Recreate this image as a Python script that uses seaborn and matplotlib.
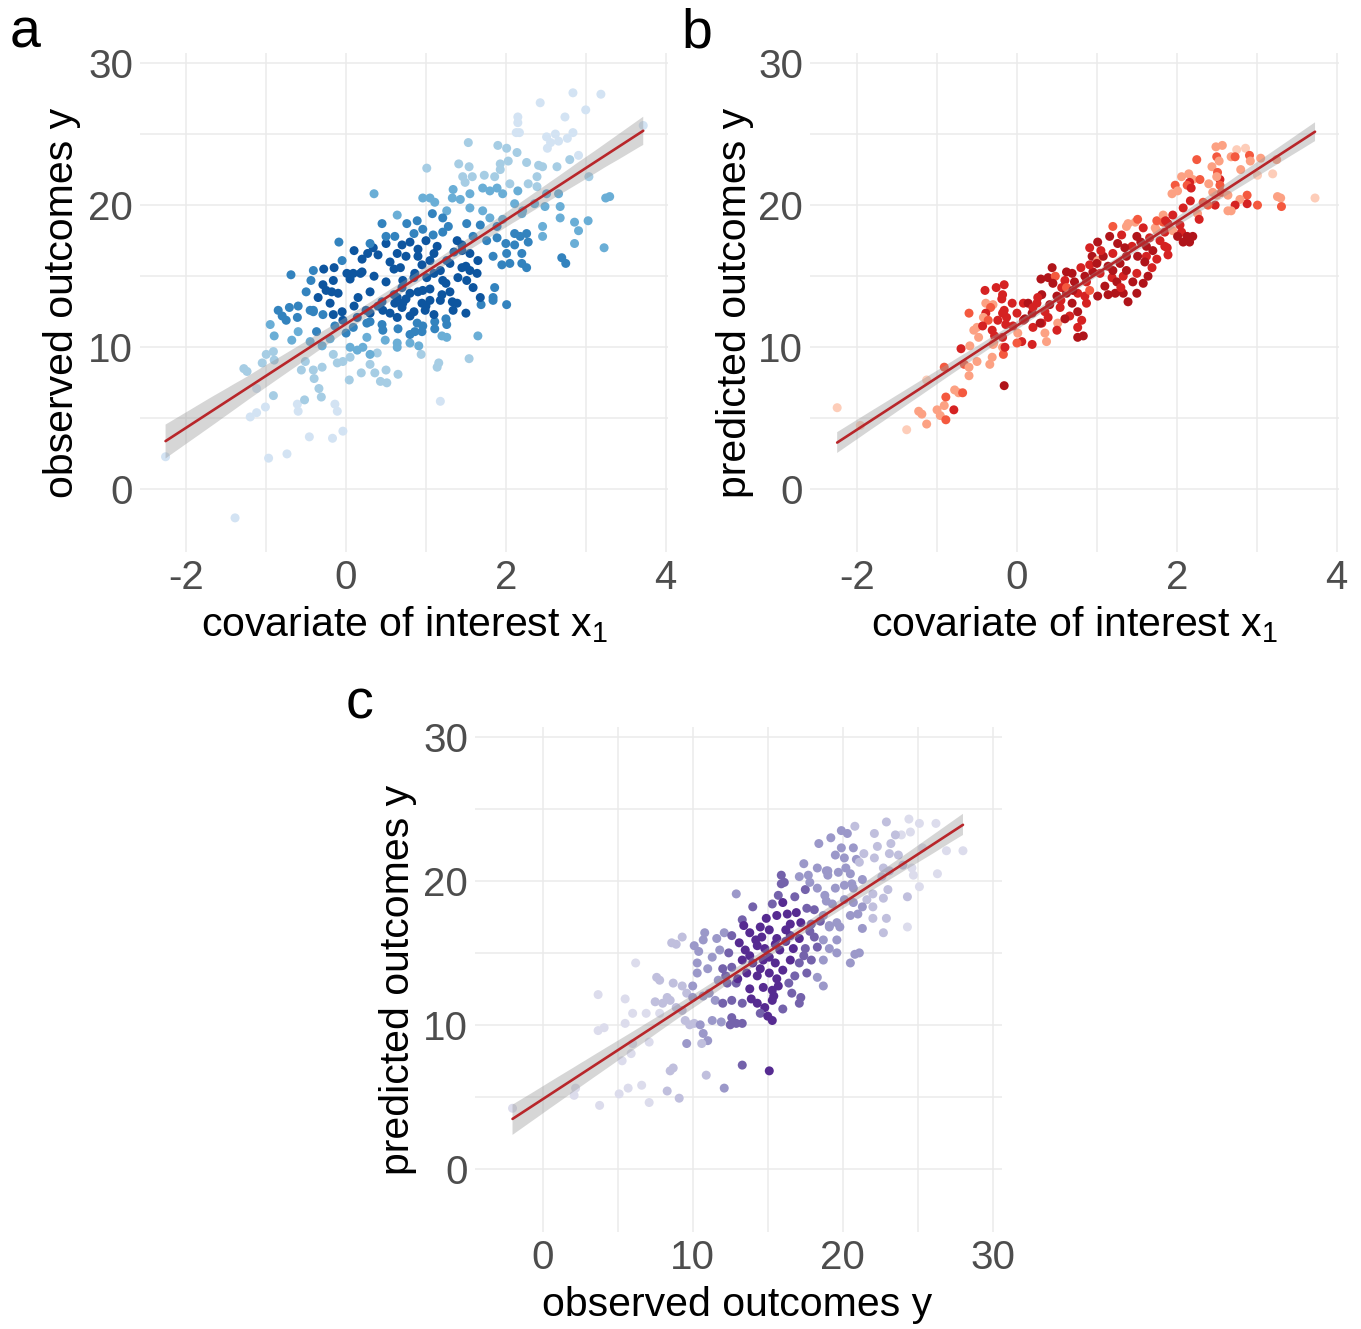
import matplotlib
matplotlib.use("Agg")
import numpy as np
import pandas as pd
import seaborn as sns
import matplotlib.pyplot as plt
from matplotlib.collections import PolyCollection
from matplotlib.ticker import FixedLocator

# ---------------- data: panel a (observed y vs x1) ----------------
a_x = [0.35, 0.64, 0.45, -0.09, 0.50, 0.34, 0.27, -0.69, -0.41, -0.28,
       -0.44, -0.16, -0.29, 0.01, 0.09, 0.18, -0.18, -0.71, -0.41, -0.80,
       -0.61, -0.90, -0.68, -0.91, -0.90, -1.24, -1.20, -1.12, -1.01, -0.91,
       -1.12, -0.61, -0.60, -0.52, -0.97, -0.74, -0.46, -0.17, -0.04, -0.14,
       -0.11, -2.26, -1.39, -0.41, -0.40, -0.30, -0.56, -0.51, -0.34, -0.31,
       -0.16, -0.11, -0.04, 0.05, 0.04, 0.19, 0.30, 0.39, 0.43, 0.51,
       0.50, 0.36, 0.65, 0.05, 0.14, 0.21, 0.30, 0.49, 0.64, 0.46,
       0.26, 0.09, -0.14, -0.37, -0.41, -0.29, -0.16, -0.04, 0.14, 0.30,
       0.46, 0.64, 0.61, 0.26, 1.18, 1.14, 1.16, 1.54, 0.94, 0.64,
       0.80, 0.91, 1.20, 1.26, 1.65, 1.11, 1.26, 1.11, 0.86, 0.96,
       0.89, 0.80, 0.99, 1.34, 1.50, 1.69, 1.84, 2.01, 1.18, 1.39,
       0.95, 0.71, 2.84, 3.19, 2.43, 3.00, 2.74, 2.15, 2.15, 2.13,
       2.17, 2.62, 2.84, 2.51, 2.77, 2.66, 2.56, 2.52, 1.53, 1.90,
       2.01, 2.14, 2.91, 2.80, 2.26, 2.03, 1.93, 1.41, 2.41, 2.46,
       1.54, 2.64, 1.93, 1.01, 1.73, 1.58, 1.86, 1.46, 2.39, 3.04,
       2.05, 2.28, 1.49, 1.34, 1.71, 1.80, 1.89, 2.15, 2.39, 2.51,
       1.96, 1.55, 2.66, 1.33, 0.96, 1.05, 1.11, 1.43, 1.55, 3.25,
       3.30, 2.11, 2.21, 2.49, 2.68, 2.36, 1.71, 1.26, 1.08, 1.80,
       1.96, 2.20, 1.89, 1.68, 1.51, 1.21, 1.28, 0.89, 0.76, 0.96,
       2.46, 2.46, 2.68, 2.86, 3.03, 2.91, 2.86, 3.23, 2.11, 2.18,
       2.26, 2.28, 2.11, 2.00, 2.01, 2.20, 2.70, 2.75, 1.95, 2.05,
       2.20, 2.26, 1.84, 1.65, 1.55, 1.76, 1.89, 1.59, 1.39, 1.45,
       1.55, 1.45, 1.64, 1.51, 1.59, 1.68, 1.86, 1.84, 1.33, 1.30,
       1.21, 1.18, 1.26, 1.05, 1.14, 1.09, 1.21, 0.80, 0.90, 0.86,
       1.01, 0.71, 0.64, 0.61, 0.68, 0.80, 0.96, 1.05, 0.64, 3.72,
       0.05, 0.20, 0.35, 0.50, 0.60, 0.70, 0.85, 0.95, 1.10, 1.25,
       0.15, 0.30, 0.45, 0.60, 0.75, 0.90, 1.05, 1.20, 0.10, 0.25,
       0.40, 0.55, 0.70, 0.85, 1.00, 0.20, 0.40, 0.55, 0.75, 0.90,
       1.10, 0.30, 0.50, 0.70, 0.85, 1.00, -0.10, -0.20, -0.05, -0.25,
       -0.35, -0.50, -0.60, -0.45, -0.15, -0.05, 0.10, 1.30, 1.40, 1.35,
       1.45, 1.50, 0.65, 0.80, 0.30, 0.45, 1.10, 1.25, 0.95, 0.00,
       -0.85, -0.95, -0.75, -0.60, -0.45, -0.30, -0.20, -1.00, -1.28, -1.05]
a_y = [20.8, 19.3, 18.7, 17.4, 17.3, 17.0, 16.6, 15.1, 15.4, 15.5,
       14.7, 14.7, 14.4, 15.2, 15.2, 15.2, 13.9, 12.8, 12.6, 12.2,
       12.1, 10.8, 10.5, 9.7, 9.1, 8.3, 5.1, 5.4, 5.8, 6.6,
       7.1, 6.0, 5.5, 6.3, 2.2, 2.5, 3.7, 3.6, 4.1, 6.0,
       5.5, 2.3, -2.0, 8.4, 7.8, 8.6, 8.4, 9.0, 7.1, 6.5,
       9.5, 8.9, 9.0, 9.3, 7.7, 8.2, 8.8, 9.6, 7.6, 7.5,
       8.4, 8.2, 8.1, 10.0, 9.8, 10.0, 9.5, 10.5, 10.3, 11.2,
       10.7, 11.4, 11.5, 11.1, 12.5, 12.3, 12.3, 11.9, 12.1, 12.4,
       12.6, 12.1, 13.1, 11.7, 6.2, 8.6, 8.9, 9.2, 9.5, 10.0,
       10.3, 10.1, 10.8, 10.7, 10.8, 11.3, 11.6, 11.8, 11.1, 11.5,
       11.7, 12.2, 12.6, 12.6, 12.4, 13.0, 13.3, 13.0, 13.3, 13.1,
       13.1, 13.1, 27.9, 27.8, 27.2, 26.7, 26.2, 26.2, 25.8, 25.1,
       25.1, 25.0, 25.1, 24.8, 24.7, 24.5, 24.4, 24.0, 24.4, 24.2,
       24.0, 23.7, 23.5, 23.2, 23.0, 23.1, 22.9, 22.9, 22.8, 22.7,
       22.7, 22.7, 22.5, 22.6, 22.1, 22.0, 22.0, 22.0, 22.0, 22.0,
       21.5, 21.5, 21.6, 21.1, 21.2, 21.0, 21.2, 21.0, 21.3, 20.8,
       20.8, 20.8, 20.8, 20.5, 20.5, 20.5, 20.2, 20.4, 19.8, 20.5,
       20.6, 20.1, 19.6, 19.9, 19.9, 20.1, 19.6, 19.6, 19.4, 19.1,
       19.0, 19.4, 18.5, 18.6, 18.7, 19.1, 18.5, 18.9, 18.7, 18.3,
       18.5, 17.8, 19.1, 18.8, 18.9, 18.2, 17.3, 17.0, 18.0, 17.8,
       18.0, 17.4, 17.2, 17.3, 16.6, 16.6, 16.3, 15.9, 15.8, 15.9,
       15.9, 15.6, 16.4, 16.1, 16.6, 17.5, 17.7, 17.8, 17.5, 16.8,
       15.4, 15.6, 15.2, 14.7, 14.2, 13.5, 14.2, 13.5, 13.2, 13.9,
       14.7, 15.4, 16.1, 16.1, 17.1, 17.9, 18.1, 17.4, 16.4, 15.2,
       14.9, 14.7, 16.6, 17.8, 15.6, 13.8, 14.0, 13.3, 13.5, 25.6,
       14.8, 15.3, 15.0, 14.6, 15.5, 14.2, 14.9, 15.8, 15.2, 14.5,
       13.5, 13.9, 13.2, 13.7, 13.4, 13.9, 14.1, 13.7, 12.9, 12.6,
       12.9, 12.4, 12.8, 12.5, 12.9, 16.2, 16.5, 16.0, 16.4, 16.9,
       16.6, 17.3, 17.8, 17.2, 18.0, 17.5, 13.8, 13.1, 12.5, 14.0,
       13.5, 13.9, 12.9, 12.6, 15.6, 16.1, 16.8, 15.9, 14.9, 16.7,
       17.2, 15.7, 11.3, 10.9, 11.8, 11.6, 12.3, 12.0, 11.1, 11.0,
       12.6, 11.6, 11.9, 11.1, 10.4, 10.1, 10.6, 9.5, 8.5, 8.9]
a_shade = [3, 3, 4, 4, 5, 5, 5, 4, 4, 5,
           4, 5, 5, 5, 5, 5, 5, 4, 4, 4,
           4, 3, 3, 2, 2, 2, 1, 1, 1, 2,
           1, 1, 1, 2, 1, 1, 1, 1, 1, 1,
           1, 1, 1, 2, 2, 2, 2, 2, 2, 2,
           2, 2, 2, 2, 2, 2, 2, 2, 2, 2,
           2, 2, 2, 3, 3, 3, 3, 3, 3, 4,
           3, 4, 4, 4, 4, 4, 5, 5, 5, 5,
           5, 5, 5, 4, 1, 2, 2, 2, 2, 3,
           3, 3, 3, 3, 3, 4, 4, 4, 4, 4,
           4, 5, 5, 5, 5, 4, 4, 4, 5, 5,
           5, 5, 1, 1, 1, 1, 1, 1, 1, 1,
           1, 1, 1, 1, 1, 1, 1, 1, 2, 2,
           2, 2, 1, 2, 2, 2, 2, 2, 2, 2,
           2, 2, 2, 2, 2, 2, 2, 2, 2, 2,
           2, 2, 2, 3, 3, 3, 3, 3, 2, 3,
           3, 3, 3, 3, 3, 3, 3, 3, 3, 3,
           3, 3, 3, 3, 3, 3, 3, 3, 4, 3,
           3, 3, 4, 4, 4, 4, 4, 4, 4, 4,
           3, 3, 3, 3, 3, 3, 3, 3, 4, 4,
           4, 4, 4, 4, 4, 4, 4, 4, 4, 4,
           4, 4, 4, 5, 5, 4, 4, 4, 5, 5,
           5, 5, 5, 5, 5, 5, 4, 4, 5, 5,
           5, 5, 5, 5, 5, 4, 4, 5, 5, 5,
           5, 5, 5, 4, 5, 5, 5, 5, 5, 1,
           5, 5, 5, 5, 5, 5, 5, 5, 5, 5,
           5, 5, 5, 5, 5, 5, 5, 5, 5, 5,
           5, 5, 5, 5, 5, 5, 5, 5, 5, 5,
           5, 4, 4, 5, 4, 5, 5, 5, 5, 5,
           5, 4, 4, 4, 5, 4, 5, 5, 5, 5,
           5, 5, 4, 4, 4, 4, 5, 4, 4, 4,
           4, 3, 4, 3, 3, 3, 3, 2, 2, 2]

# ---------------- data: panel b (predicted y vs x1) ----------------
b_x = [-2.25, -1.96, -1.38, -1.13, -1.23, -1.19, -1.00, -0.96, -0.89, -0.91,
       -0.79, -0.89, -1.13, -0.78, -0.73, -0.68, -0.91, -0.66, -0.60, -0.60,
       -0.50, -0.70, -0.59, -0.34, -0.31, -0.16, -0.18, -0.17, -0.30, -0.54,
       -0.48, -0.50, -0.60, -0.40, -0.26, -0.16, -0.18, -0.19, -0.39, -0.30,
       -0.33, -0.39, -0.42, -0.36, -0.43, -0.16, -0.13, -0.14, -0.31, -0.28,
       -0.18, -0.29, -0.06, -0.18, -0.24, 0.00, 0.08, 0.14, 0.25, 0.31,
       0.26, 0.30, 0.44, 0.39, 0.48, 0.45, 0.56, 0.62, 0.69, 0.60,
       0.72, 0.62, 0.76, 0.69, 0.54, 0.41, 0.39, 0.31, 0.19, 0.20,
       0.08, 0.01, 0.06, 0.19, 0.35, 0.37, 0.51, 0.66, 0.76, 0.81,
       0.76, 0.83, 0.87, 0.85, 0.91, 0.87, 0.95, 0.94, 0.91, 1.01,
       1.01, 1.08, 1.14, 1.04, 1.01, 1.14, 1.23, 1.19, 1.25, 1.33,
       1.39, 1.50, 1.33, 1.37, 1.29, 1.20, 1.26, 1.16, 1.20, 1.31,
       1.37, 1.39, 1.48, 1.51, 1.58, 1.50, 1.44, 1.37, 1.51, 1.62,
       1.66, 1.73, 1.75, 1.83, 1.83, 1.89, 1.85, 1.79, 1.70, 1.62,
       1.69, 1.64, 1.58, 1.50, 0.91, 0.62, 0.29, 0.50, 0.00, -0.15,
       0.76, 2.57, 2.49, 2.75, 2.86, 2.68, 2.73, 2.91, 2.92, 3.05,
       3.25, 2.50, 2.53, 2.25, 2.44, 2.51, 2.54, 2.50, 2.80, 3.01,
       3.20, 2.15, 2.06, 2.20, 2.29, 2.16, 2.13, 2.40, 2.54, 1.98,
       2.01, 1.94, 2.18, 2.45, 2.50, 2.56, 2.64, 2.88, 3.26, 3.30,
       3.31, 3.73, 3.01, 2.88, 2.79, 2.73, 2.68, 2.64, 2.48, 2.39,
       2.33, 2.17, 2.08, 2.26, 2.28, 1.95, 1.86, 2.04, 1.75, 1.85,
       1.95, 2.06, 2.01, 2.13, 2.20, 2.08, 2.16, 1.88, 1.89, 0.50,
       0.70, 0.85, 1.10, 1.30, 1.45, 1.20, 1.00, 0.80, 0.55, 1.60,
       1.75, 1.55, 1.35, 1.05, 0.20, -0.05, 0.10, 0.35, 0.60]
b_y = [5.75, 4.5, 4.2, 4.6, 5.5, 5.3, 5.6, 5.2, 4.9, 5.9,
       5.6, 6.5, 7.7, 7.0, 6.8, 6.8, 8.6, 8.8, 8.6, 8.0,
       9.0, 9.9, 10.1, 8.8, 9.3, 7.3, 10.0, 9.5, 10.2, 11.2,
       10.7, 11.4, 12.4, 14.0, 14.2, 14.4, 13.7, 13.4, 13.1, 13.0,
       12.8, 12.4, 12.1, 11.9, 11.5, 12.6, 12.1, 11.6, 11.2, 10.8,
       10.7, 10.3, 13.1, 12.4, 11.9, 12.4, 13.1, 13.1, 13.1, 13.7,
       13.5, 14.8, 15.6, 14.9, 15.0, 14.5, 14.2, 15.3, 15.2, 14.7,
       14.6, 13.8, 13.8, 13.1, 12.8, 13.0, 12.1, 11.7, 12.4, 11.4,
       11.9, 11.0, 10.4, 10.2, 11.0, 10.4, 11.7, 12.2, 12.5, 11.9,
       10.7, 10.8, 13.1, 13.6, 14.0, 14.6, 15.3, 16.4, 17.0, 17.4,
       16.1, 16.4, 15.7, 15.2, 13.6, 13.7, 13.8, 14.9, 14.6, 13.8,
       13.2, 13.8, 15.0, 15.4, 15.9, 16.6, 17.3, 17.8, 18.5, 17.9,
       18.5, 18.7, 18.8, 19.0, 18.4, 17.8, 17.1, 16.4, 16.4, 17.1,
       17.7, 18.4, 18.9, 19.3, 18.8, 18.7, 17.1, 17.5, 16.8, 16.4,
       15.6, 15.0, 14.5, 15.2, 15.8, 14.2, 11.7, 11.2, 10.3, 10.0,
       11.4, 24.2, 24.1, 23.9, 24.0, 23.4, 23.4, 23.5, 23.1, 23.3,
       23.2, 23.4, 23.1, 23.2, 22.7, 22.3, 21.8, 22.0, 22.5, 22.1,
       22.2, 22.2, 22.0, 21.8, 21.8, 21.6, 21.4, 21.5, 21.4, 21.4,
       21.0, 20.8, 21.2, 20.9, 20.7, 20.9, 20.7, 20.7, 20.6, 20.5,
       19.9, 20.5, 20.0, 20.1, 20.4, 20.0, 19.6, 19.6, 20.0, 20.0,
       20.2, 20.3, 19.8, 19.4, 19.0, 19.3, 18.9, 18.6, 18.2, 18.1,
       18.2, 18.1, 17.8, 17.8, 17.8, 17.4, 17.4, 17.0, 16.5, 13.6,
       14.0, 15.0, 14.3, 14.2, 14.6, 15.4, 15.9, 15.6, 13.3, 16.0,
       16.2, 17.4, 17.0, 16.8, 12.8, 11.5, 12.0, 12.5, 12.0]
b_shade = [1, 1, 1, 2, 2, 2, 2, 2, 3, 2,
           4, 3, 1, 2, 2, 3, 3, 3, 2, 2,
           2, 4, 2, 2, 2, 5, 2, 3, 2, 2,
           2, 2, 3, 4, 4, 4, 4, 4, 2, 2,
           3, 4, 2, 3, 4, 4, 4, 4, 4, 4,
           4, 2, 4, 4, 4, 4, 4, 5, 4, 5,
           4, 5, 5, 5, 3, 5, 4, 5, 5, 4,
           5, 5, 4, 5, 4, 5, 4, 4, 5, 4,
           4, 2, 4, 4, 2, 2, 2, 4, 5, 4,
           5, 5, 4, 4, 3, 4, 5, 5, 4, 5,
           2, 5, 5, 4, 5, 5, 5, 4, 5, 5,
           5, 5, 4, 5, 5, 4, 5, 5, 3, 4,
           2, 2, 2, 3, 4, 5, 4, 5, 5, 5,
           4, 2, 3, 2, 3, 4, 4, 4, 5, 4,
           4, 5, 5, 4, 4, 3, 5, 4, 3, 4,
           4, 2, 2, 1, 1, 2, 3, 3, 2, 2,
           2, 3, 2, 3, 2, 3, 4, 2, 2, 1,
           1, 2, 2, 2, 3, 4, 3, 2, 3, 3,
           2, 2, 4, 2, 2, 3, 2, 3, 2, 2,
           3, 1, 3, 4, 2, 4, 2, 2, 4, 3,
           3, 4, 4, 2, 4, 4, 4, 4, 2, 4,
           2, 4, 5, 5, 5, 5, 5, 4, 4, 5,
           5, 5, 5, 4, 5, 5, 5, 4, 4, 5,
           4, 5, 5, 4, 4, 4, 5, 4, 5]

# ---------------- data: panel c (predicted y vs observed y) ----------------
c_x = [3.7, 6.2, 3.8, 2.1, 2.2, 3.7, 4.1, 5.5, 6.0, 6.9,
       5.5, 5.1, 5.7, 6.6, 7.1, 5.3, 5.9, 6.0, 7.1, 8.3,
       9.1, 8.5, 8.7, 9.6, 7.6, 7.8, 8.7, 9.3, 9.6, 8.3,
       8.5, 8.0, 7.5, 8.9, 9.3, 9.5, 9.8, 10.1, 7.8, 8.6,
       8.9, 9.3, 10.1, 10.3, 10.3, 10.0, 17.4, 18.3, 19.0, 17.7,
       17.1, 15.9, 16.1, 15.9, 17.5, 12.9, 15.7, 18.3, 18.8, 19.3,
       14.0, 15.3, 16.0, 15.6, 16.3, 16.9, 17.6, 18.1, 18.7, 13.3,
       13.4, 14.5, 15.1, 16.5, 17.2, 17.9, 19.1, 19.6, 12.1, 12.6,
       13.8, 14.6, 15.6, 16.5, 17.1, 18.1, 18.7, 10.8, 10.7, 11.6,
       11.8, 11.3, 10.4, 13.1, 13.5, 14.3, 14.8, 15.1, 15.8, 16.7,
       17.5, 18.3, 19.1, 19.6, 13.3, 14.0, 14.7, 15.5, 16.5, 17.1,
       17.9, 18.7, 11.0, 12.0, 12.6, 13.6, 14.3, 15.1, 15.6, 16.8,
       17.6, 18.3, 18.7, 11.7, 12.3, 12.9, 13.8, 14.7, 15.3, 15.7,
       16.6, 17.2, 17.1, 11.1, 10.7, 10.0, 11.5, 12.0, 12.6, 13.3,
       14.3, 14.8, 15.3, 16.0, 14.5, 15.0, 15.3, 11.3, 11.9, 12.5,
       12.9, 13.3, 12.6, 10.7, 10.5, 11.0, 10.6, 13.3, 15.1, 10.9,
       12.1, 24.4, 22.9, 25.1, 26.2, 24.5, 23.9, 23.5, 22.1, 19.9,
       20.3, 23.2, 22.3, 20.7, 19.9, 25.3, 21.4, 20.1, 19.5, 23.1,
       23.7, 26.9, 28.0, 20.9, 22.1, 21.1, 24.0, 22.7, 23.1, 18.9,
       19.0, 19.7, 20.5, 22.6, 24.6, 26.3, 21.3, 24.7, 20.6, 20.1,
       20.7, 23.0, 25.1, 22.0, 22.7, 24.3, 21.6, 20.7, 20.1, 21.3,
       22.0, 21.0, 20.5, 22.0, 22.9, 21.3, 22.7, 24.3, 19.8, 19.1,
       19.6, 20.8, 21.1, 20.5, -2.0, 13.8, 14.2, 15.5, 16.2, 14.5,
       16.0, 13.0, 16.2, 14.9, 15.4, 13.9, 16.4, 12.4, 12.2, 17.4,
       17.8, 18.5, 16.8, 17.8, 18.9, 19.5, 20.2, 18.4, 19.2, 20.8]
c_y = [12.1, 14.3, 4.4, 5.1, 5.6, 9.6, 9.8, 11.8, 10.8, 10.8,
       10.1, 5.2, 5.6, 5.8, 4.6, 7.5, 8.0, 8.7, 8.8, 5.4,
       4.9, 6.8, 7.0, 8.7, 13.3, 13.1, 12.9, 12.7, 12.2, 11.9,
       11.7, 11.5, 11.6, 11.2, 11.0, 10.3, 10.0, 10.1, 10.8, 15.7,
       15.6, 16.1, 15.5, 14.3, 13.6, 12.7, 21.2, 20.9, 20.7, 20.4,
       20.3, 20.4, 19.9, 19.8, 19.4, 19.1, 19.0, 19.5, 19.0, 18.4,
       18.2, 18.4, 18.5, 17.6, 17.7, 17.8, 18.1, 18.0, 17.6, 17.3,
       16.9, 16.8, 16.6, 17.0, 17.1, 17.0, 16.8, 17.1, 16.4, 16.2,
       16.4, 16.1, 16.0, 16.2, 16.0, 16.1, 15.9, 16.4, 15.9, 16.0,
       15.2, 14.7, 15.1, 15.7, 15.2, 15.5, 15.3, 14.7, 15.2, 15.3,
       15.3, 15.4, 15.3, 15.0, 14.5, 14.3, 14.5, 14.3, 14.5, 14.3,
       14.5, 14.5, 13.9, 13.9, 14.0, 13.6, 13.4, 13.6, 13.2, 13.4,
       13.6, 13.3, 12.7, 13.1, 12.9, 12.9, 12.5, 12.6, 12.4, 12.7,
       12.2, 11.9, 11.5, 12.2, 12.0, 11.9, 11.7, 11.5, 11.7, 11.5,
       11.5, 11.2, 11.7, 11.1, 10.8, 10.6, 10.3, 10.3, 10.2, 10.0,
       10.1, 10.1, 10.5, 9.4, 10.0, 8.9, 8.7, 7.2, 6.8, 6.5,
       5.6, 24.3, 24.1, 24.0, 24.0, 23.4, 23.2, 23.2, 23.3, 23.5,
       23.3, 22.6, 22.4, 22.3, 22.3, 22.3, 21.9, 21.6, 21.8, 21.9,
       21.8, 22.1, 22.1, 21.5, 21.6, 21.3, 21.1, 20.9, 20.7, 20.7,
       20.4, 20.6, 20.5, 20.3, 20.9, 20.5, 20.1, 20.4, 19.8, 19.7,
       19.5, 19.4, 19.6, 19.1, 18.8, 18.9, 18.7, 18.5, 18.7, 18.2,
       18.2, 17.7, 17.6, 17.4, 17.4, 16.7, 16.4, 16.8, 16.8, 16.9,
       15.9, 14.9, 15.0, 14.3, 4.2, 14.8, 15.9, 15.6, 15.8, 13.9,
       13.8, 13.2, 16.6, 17.4, 12.0, 11.8, 12.9, 15.0, 13.4, 14.8,
       16.5, 17.2, 18.9, 19.9, 18.6, 19.5, 20.9, 22.6, 23.0, 23.8]
c_shade = [1, 1, 1, 1, 1, 1, 1, 1, 1, 1,
           1, 1, 1, 1, 1, 1, 1, 1, 1, 2,
           2, 2, 2, 3, 2, 2, 2, 2, 2, 2,
           2, 2, 2, 2, 2, 2, 2, 2, 1, 2,
           2, 2, 3, 3, 3, 3, 3, 3, 3, 3,
           3, 4, 4, 4, 4, 3, 4, 3, 3, 3,
           4, 4, 5, 5, 5, 5, 4, 4, 3, 4,
           5, 5, 5, 5, 5, 4, 3, 3, 3, 4,
           5, 5, 5, 5, 5, 4, 3, 3, 3, 3,
           3, 3, 3, 5, 5, 5, 5, 5, 5, 5,
           4, 4, 3, 3, 5, 5, 5, 5, 5, 4,
           4, 3, 3, 4, 4, 5, 5, 5, 5, 4,
           4, 3, 3, 3, 4, 4, 5, 5, 5, 5,
           4, 4, 4, 3, 3, 3, 3, 4, 4, 4,
           5, 5, 5, 4, 4, 5, 5, 3, 3, 4,
           4, 4, 4, 3, 3, 3, 2, 4, 5, 2,
           3, 1, 2, 1, 1, 1, 1, 2, 2, 3,
           3, 2, 2, 3, 3, 1, 2, 3, 3, 2,
           2, 1, 1, 3, 2, 2, 2, 2, 2, 3,
           3, 3, 3, 2, 1, 1, 3, 1, 3, 3,
           3, 2, 1, 2, 2, 2, 2, 3, 3, 3,
           2, 3, 3, 2, 2, 3, 2, 1, 3, 3,
           3, 3, 3, 3, 1, 5, 5, 5, 5, 5,
           5, 5, 5, 5, 5, 5, 4, 4, 4, 4,
           4, 4, 4, 3, 3, 3, 3, 3, 3, 2]

# ---------------- style ----------------
blues = {1: "#d3e3f3", 2: "#a6cde4", 3: "#6aaed6", 4: "#3383be", 5: "#0d559f"}
reds = {1: "#fdcdb9", 2: "#fca183", 3: "#f4593f", 4: "#d52222", 5: "#b0141a"}
purples = {1: "#dcdcec", 2: "#c0bfdd", 3: "#9b98c9", 4: "#7462ab", 5: "#562b91"}
LINE = "#b8262a"
GRID = "#ebebeb"

sns.set_theme(style="white")
plt.rcParams["font.family"] = ["Liberation Sans", "DejaVu Sans"]
plt.rcParams["mathtext.fontset"] = "custom"
plt.rcParams["mathtext.rm"] = "Liberation Sans"
plt.rcParams["axes.unicode_minus"] = False

W, H = 1361, 1329
fig = plt.figure(figsize=(W / 100, H / 100), dpi=100)


def box(l, t, r, b):
    return [l / W, 1 - b / H, (r - l) / W, (b - t) / H]


def panel(ax, x, y, s, pal, xlim, xmaj, xminr, ymaj, yminr, xlabel, ylabel, xlc, ylc):
    df = pd.DataFrame({"x": x, "y": y, "s": s})
    sns.scatterplot(data=df, x="x", y="y", hue="s", palette=pal, legend=False,
                    s=42, linewidth=0, ax=ax, zorder=2)
    sns.regplot(data=df, x="x", y="y", scatter=False, ci=95, seed=1, color=LINE,
                line_kws=dict(lw=1.9, zorder=4), ax=ax)
    for c in ax.collections:
        if isinstance(c, PolyCollection):
            c.set_alpha(0.4)
            c.set_facecolor("#999999")
            c.set_edgecolor("none")
            c.set_zorder(3)
    ax.set_xlim(xlim)
    ax.set_ylim(-4.4, 30.7)
    ax.xaxis.set_major_locator(FixedLocator(xmaj))
    ax.xaxis.set_minor_locator(FixedLocator(xminr))
    ax.yaxis.set_major_locator(FixedLocator(ymaj))
    ax.yaxis.set_minor_locator(FixedLocator(yminr))
    ax.grid(which="both", color=GRID, lw=1.1)
    ax.set_axisbelow(True)
    for sp in ax.spines.values():
        sp.set_visible(False)
    ax.tick_params(which="both", length=0, labelsize=29, labelcolor="#4d4d4d", pad=5)
    ax.set_xlabel(xlabel, fontsize=29.5, color="black", va="center")
    ax.set_ylabel(ylabel, fontsize=29.5, color="black", va="center")
    ax.xaxis.set_label_coords(*xlc)
    ax.yaxis.set_label_coords(*ylc)


ax_a = fig.add_axes(box(140, 53, 668, 552))
ax_b = fig.add_axes(box(810, 53, 1339, 552))
ax_c = fig.add_axes(box(475, 727, 1002, 1232))

xlab1 = r"covariate of interest x$_\mathregular{1}$"
panel(ax_a, a_x, a_y, a_shade, blues, (-2.58, 4.03), [-2, 0, 2, 4], [-1, 1, 3],
      [0, 10, 20, 30], [5, 15, 25], xlab1, "observed outcomes y",
      (0.5, -0.146), (-0.148, 0.5))
panel(ax_b, b_x, b_y, b_shade, reds, (-2.59, 4.03), [-2, 0, 2, 4], [-1, 1, 3],
      [0, 10, 20, 30], [5, 15, 25], xlab1, "predicted outcomes y",
      (0.5, -0.146), (-0.142, 0.5))
panel(ax_c, c_x, c_y, c_shade, purples, (-4.5, 30.6), [0, 10, 20, 30], [5, 15, 25],
      [0, 10, 20, 30], [5, 15, 25], "observed outcomes y", "predicted outcomes y",
      (0.497, -0.1446), (-0.146, 0.5))

for lab, px, py in [("a", 25.5, 48), ("b", 697, 47), ("c", 360, 719)]:
    fig.text(px / W, 1 - py / H, lab, fontsize=40, ha="center", va="baseline", color="black")

fig.savefig("out.png", dpi=100)
